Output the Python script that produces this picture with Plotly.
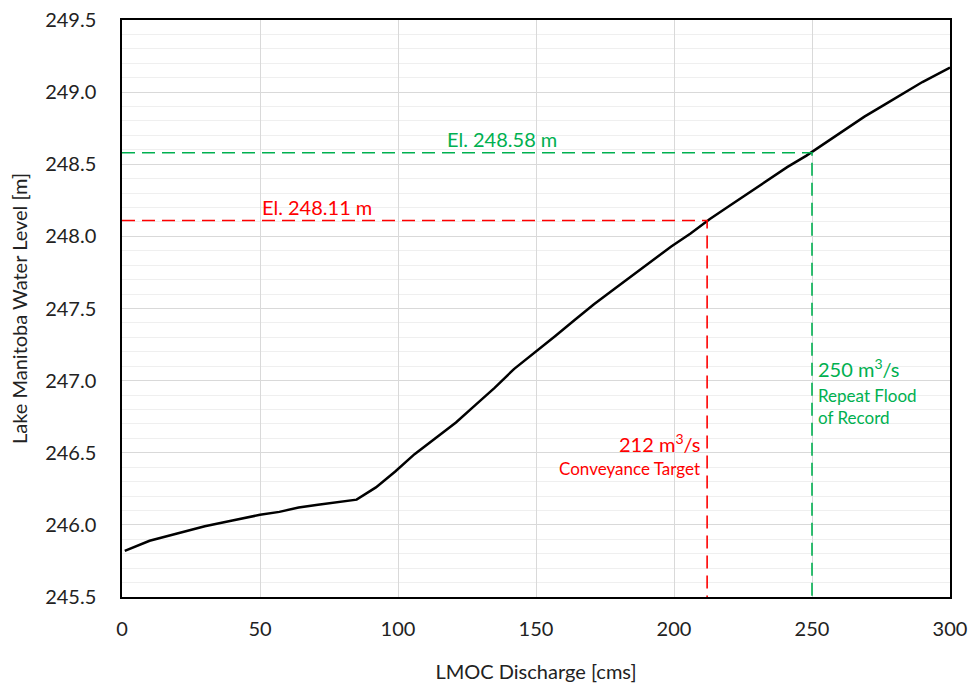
import plotly.graph_objects as go

discharge = [1, 10, 20, 30, 40, 50, 57, 64, 71, 78, 85, 92, 99, 106, 114, 121, 128, 135, 142,
             150, 157, 164, 171, 178, 185, 192, 199, 206, 213, 220, 227, 234, 241, 248, 255,
             262, 269, 276, 283, 290, 300]
level = [245.82, 245.89, 245.94, 245.99, 246.03, 246.07, 246.09, 246.12, 246.14, 246.155,
         246.175, 246.26, 246.37, 246.49, 246.61, 246.71, 246.83, 246.95, 247.08, 247.20,
         247.31, 247.42, 247.53, 247.63, 247.73, 247.83, 247.93, 248.02, 248.12, 248.21,
         248.30, 248.39, 248.48, 248.56, 248.65, 248.74, 248.83, 248.91, 248.99, 249.07,
         249.17]

target_q = 212
target_el = 248.11
flood_q = 250
flood_el = 248.58
x_min, x_max = 0, 300
y_min, y_max = 245.5, 249.5

RED = "#FF0000"
GREEN = "#00B050"
FONT = "Lato"
TXT = "#222222"

fig = go.Figure()
fig.add_trace(go.Scatter(x=discharge, y=level, mode="lines",
                         line=dict(color="black", width=2.5), showlegend=False,
                         hoverinfo="skip"))
# reference lines
fig.add_trace(go.Scatter(x=[x_min, target_q, target_q], y=[target_el, target_el, y_min],
                         mode="lines", line=dict(color=RED, width=1.6, dash="13px,7px"),
                         showlegend=False))
fig.add_trace(go.Scatter(x=[x_min, flood_q, flood_q], y=[flood_el, flood_el, y_min],
                         mode="lines", line=dict(color=GREEN, width=1.6, dash="13px,7px"),
                         showlegend=False))

fig.add_annotation(x=50, y=target_el, text=f"El. {target_el:.2f} m", showarrow=False,
                   xanchor="left", yanchor="bottom", yshift=0,
                   font=dict(color=RED, size=20, family=FONT))
fig.add_annotation(x=117, y=flood_el, text=f"El. {flood_el:.2f} m", showarrow=False,
                   xanchor="left", yanchor="bottom", yshift=0,
                   font=dict(color=GREEN, size=20, family=FONT))
fig.add_annotation(x=target_q, y=246.57, text=f"{target_q} m<sup>3</sup>/s", showarrow=False,
                   xanchor="right", yanchor="middle", xshift=-5,
                   font=dict(color=RED, size=20, family=FONT))
fig.add_annotation(x=target_q, y=246.39, text="Conveyance Target", showarrow=False,
                   xanchor="right", yanchor="middle", xshift=-5,
                   font=dict(color=RED, size=17, family=FONT))
fig.add_annotation(x=flood_q, y=247.09, text=f"{flood_q} m<sup>3</sup>/s", showarrow=False,
                   xanchor="left", yanchor="middle", xshift=4,
                   font=dict(color=GREEN, size=20, family=FONT))
fig.add_annotation(x=flood_q, y=246.82, text="Repeat Flood<br>of Record", showarrow=False,
                   xanchor="left", yanchor="middle", xshift=4, align="left",
                   font=dict(color=GREEN, size=17, family=FONT))

fig.update_layout(
    width=969, height=688,
    margin=dict(l=122, r=19, t=20, b=91, autoexpand=False),
    paper_bgcolor="white", plot_bgcolor="white",
    font=dict(family=FONT, color=TXT, size=18),
    xaxis=dict(range=[x_min, x_max], dtick=50, tick0=0, automargin=False,
               showgrid=True, gridcolor="#d9d9d9", gridwidth=1.2,
               showline=True, linecolor="black", linewidth=1.5, mirror=True,
               zeroline=False, ticks="", ticklabelstandoff=13,
               tickfont=dict(size=20, family=FONT, color=TXT),
               title=dict(text="LMOC Discharge [cms]", standoff=26,
                          font=dict(size=20, family=FONT, color=TXT))),
    yaxis=dict(range=[y_min, y_max], dtick=0.5, tick0=245.5, tickformat=".1f",
               automargin=False,
               showgrid=True, gridcolor="#d9d9d9", gridwidth=1.2,
               minor=dict(dtick=0.1, showgrid=True, gridcolor="#efefef", gridwidth=1),
               showline=True, linecolor="black", linewidth=1.5, mirror=True,
               zeroline=False, ticks="", ticklabelstandoff=20,
               tickfont=dict(size=20, family=FONT, color=TXT),
               title=dict(text="Lake Manitoba Water Level [m]", standoff=12,
                          font=dict(size=20, family=FONT, color=TXT))),
)

fig.write_html("out.html")
